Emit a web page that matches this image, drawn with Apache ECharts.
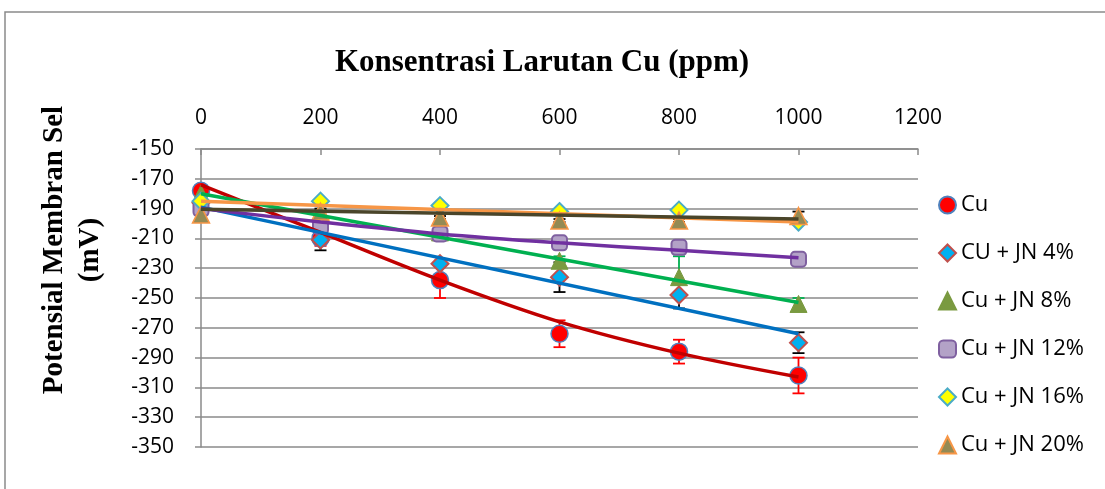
<!DOCTYPE html>
<html>
<head>
<meta charset="utf-8">
<script src="https://cdn.jsdelivr.net/npm/echarts@6/dist/echarts.min.js"></script>
<style>
  html, body { margin: 0; padding: 0; background: #fff; }
  #chart { width: 1105px; height: 489px; }
</style>
</head>
<body>
<div id="chart"></div>
<script>
// konsentrasi Cu (ppm)
const konsentrasi = [0, 200, 400, 600, 800, 1000]

// potensial membran (mV) per seri
const cu = [-178, -210, -238, -274, -286, -302]
const jn4 = [-186, -211, -227, -236, -248, -280]
const jn8 = [-180, -193, -206, -225, -236, -254]
const jn12 = [-190, -202, -207, -213, -216, -224]
const jn16 = [-185, -185, -188, -192, -191, -199]
const jn20 = [-194, -192, -196, -198, -198, -195]

// error bar (+/-)
const cuErr = [3, 5, 12, 9, 8, 12]
const jn4Err = [2, 7, 2, 10, 9, 7]
const jn8Err = [5, 2, 2, 3, 14, 4]
const jn20Err = [2, 2, 1, 1, 1, 3]

// garis tren
const trenX = [0, 200, 400, 600, 800, 1000]
const trenCu = [-174, -206, -238, -266, -287, -303]
const trenJn12 = [-190, -199, -207, -213, -218, -223]
const trenLinX = [0, 1000]
const trenJn4 = [-189, -274]
const trenJn8 = [-180, -253]
const trenJn16 = [-185, -199]
const trenJn20 = [-190.5, -197]

const namaSeri = ['Cu', 'CU + JN 4%', 'Cu + JN 8%', 'Cu + JN 12%', 'Cu + JN 16%', 'Cu + JN 20%']

const pasang = (xs, ys) => xs.map((x, i) => [x, ys[i]])

const scatter = (name, ys, symbol, size, fill, border, bw) => ({
  name: name,
  type: 'scatter',
  data: pasang(konsentrasi, ys),
  symbol: symbol,
  symbolSize: size,
  itemStyle: { color: fill, borderColor: border, borderWidth: bw, opacity: 1 },
  z: 3
})

const errorBar = (ys, errs, color) => ({
  type: 'custom',
  data: konsentrasi.map((x, i) => [x, ys[i] - errs[i], ys[i] + errs[i]]),
  encode: { x: 0, y: [1, 2] },
  z: 2,
  silent: true,
  renderItem: function (params, api) {
    const lo = api.coord([api.value(0), api.value(1)])
    const hi = api.coord([api.value(0), api.value(2)])
    const w = 6
    const st = { stroke: color, lineWidth: 1.8 }
    return {
      type: 'group',
      children: [
        { type: 'line', shape: { x1: lo[0], y1: lo[1], x2: hi[0], y2: hi[1] }, style: st },
        { type: 'line', shape: { x1: lo[0] - w, y1: lo[1], x2: lo[0] + w, y2: lo[1] }, style: st },
        { type: 'line', shape: { x1: hi[0] - w, y1: hi[1], x2: hi[0] + w, y2: hi[1] }, style: st }
      ]
    }
  }
})

const tren = (xs, ys, color, smooth) => ({
  name: 'tren',
  type: 'line',
  data: pasang(xs, ys),
  showSymbol: false,
  symbol: 'none',
  smooth: smooth ? 0.35 : false,
  lineStyle: { color: color, width: 3.5 },
  silent: true,
  z: 4
})

const chart = echarts.init(document.getElementById('chart'))

const option = {
  animation: false,
  backgroundColor: '#fff',
  grid: { left: 201, right: 187, top: 149, bottom: 42 },
  graphic: [
    {
      type: 'rect',
      shape: { x: 5, y: 12, width: 1120, height: 500 },
      style: { fill: 'none', stroke: '#8a8a8a', lineWidth: 1.5 },
      silent: true
    },
    {
      type: 'text',
      x: 542,
      y: 63,
      style: {
        text: 'Konsentrasi Larutan Cu (ppm)',
        font: 'bold 31px "Liberation Serif", "Times New Roman", serif',
        fill: '#000',
        textAlign: 'center',
        textVerticalAlign: 'middle'
      }
    },
    {
      // judul sumbu y, dua baris
      type: 'text',
      x: 73,
      y: 250,
      rotation: Math.PI / 2,
      style: {
        text: 'Potensial Membran Sel\n(mV)',
        font: 'bold 29px "Liberation Serif", "Times New Roman", serif',
        lineHeight: 36,
        fill: '#000',
        align: 'center',
        verticalAlign: 'middle'
      }
    }
  ],
  legend: {
    data: namaSeri,
    orient: 'vertical',
    left: 933,
    top: 188,
    itemWidth: 17,
    itemHeight: 17,
    itemGap: 24,
    textStyle: {
      fontFamily: '"Open Sans", sans-serif',
      fontSize: 22,
      lineHeight: 24,
      color: '#000'
    }
  },
  xAxis: {
    type: 'value',
    position: 'top',
    min: 0,
    max: 1200,
    interval: 200,
    axisLine: { show: true, lineStyle: { color: '#8a8a8a', width: 1.5 } },
    axisTick: { show: true, inside: true, length: 6, lineStyle: { color: '#8a8a8a', width: 1.5 } },
    axisLabel: {
      margin: 20,
      fontFamily: '"Open Sans", sans-serif',
      fontSize: 21,
      color: '#000',
      formatter: v => String(v)
    },
    splitLine: { show: false }
  },
  yAxis: {
    type: 'value',
    min: -350,
    max: -150,
    interval: 20,
    axisLine: { show: true, lineStyle: { color: '#8a8a8a', width: 1.5 } },
    axisTick: { show: true, length: 6, lineStyle: { color: '#8a8a8a', width: 1.5 } },
    axisLabel: {
      margin: 27,
      fontFamily: '"Open Sans", sans-serif',
      fontSize: 21,
      color: '#000',
      formatter: v => String(v)
    },
    splitLine: { show: true, lineStyle: { color: '#8a8a8a', width: 1.5 } }
  },
  series: [
    errorBar(cu, cuErr, '#ff0000'),
    errorBar(jn4, jn4Err, '#000000'),
    errorBar(jn8, jn8Err, '#00b050'),
    errorBar(jn20, jn20Err, '#000000'),
    scatter(namaSeri[0], cu, 'circle', 17, '#ff0000', '#4f81bd', 1.5),
    scatter(namaSeri[1], jn4, 'diamond', 17, '#00b0f0', '#c0504d', 2),
    scatter(namaSeri[2], jn8, 'triangle', 17, '#7a9a40', '#7a9a40', 1),
    scatter(namaSeri[3], jn12, 'roundRect', 15, '#b3a2c7', '#7f60a0', 2),
    scatter(namaSeri[4], jn16, 'diamond', 17, '#ffff00', '#4bacc6', 2),
    scatter(namaSeri[5], jn20, 'triangle', 17, '#948a54', '#f79646', 1.5),
    tren(trenX, trenCu, '#c00000', true),
    tren(trenLinX, trenJn4, '#0070c0', false),
    tren(trenLinX, trenJn8, '#00b050', false),
    tren(trenX, trenJn12, '#7030a0', true),
    tren(trenLinX, trenJn16, '#f79646', false),
    tren(trenLinX, trenJn20, '#4a452a', false)
  ]
}

chart.setOption(option)
</script>
</body>
</html>
